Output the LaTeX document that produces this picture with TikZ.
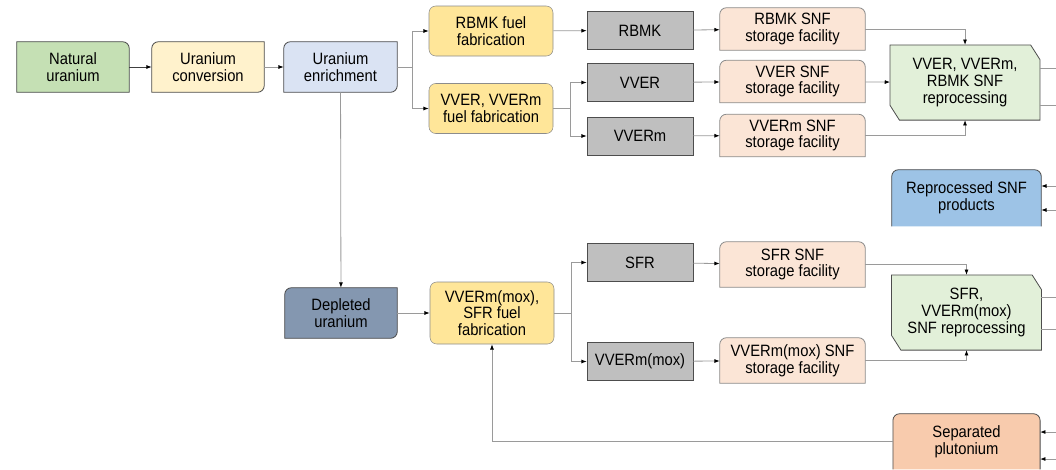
\documentclass[tikz,border=0pt]{standalone}
\usepackage{fontspec}
\setmainfont{Liberation Sans}[FakeStretch=0.9]
\usetikzlibrary{
  arrows.meta,
  positioning,
  backgrounds
}
\definecolor{natgreen}{HTML}{C5E0B4}
\definecolor{convyellow}{HTML}{FFF2CC}
\definecolor{enrblue}{HTML}{DAE3F3}
\definecolor{fabyellow}{HTML}{FFE699}
\definecolor{reactorgray}{HTML}{BFBFBF}
\definecolor{storagepink}{HTML}{FBE5D6}
\definecolor{reprocgreen}{HTML}{E2F0D9}
\definecolor{prodblue}{HTML}{9DC3E6}
\definecolor{deplblue}{HTML}{8497B0}
\definecolor{plutorange}{HTML}{F8CBAD}
\definecolor{boxborder}{HTML}{4D4D4D}
\definecolor{fabborder}{HTML}{8C8C8C}
\definecolor{storageborder}{HTML}{8C8C8C}
\definecolor{linkgray}{HTML}{9A9A9A}
\definecolor{darkline}{HTML}{404040}

\begin{document}
\begin{tikzpicture}[
    x=0.75pt, y=-0.75pt,
    every node/.style={font=\fontsize{12.3}{12.5}\selectfont, align=center, inner sep=1pt},
    plainbox/.style={rectangle, minimum width=84pt, minimum height=37.5pt},
    fab/.style={
      rectangle, draw=fabborder, fill=fabyellow, rounded corners=5pt,
      minimum width=93pt, minimum height=37.5pt
    },
    reactor/.style={
      rectangle, draw=boxborder, fill=reactorgray,
      minimum width=79.5pt, minimum height=28.5pt
    },
    storage/.style={rectangle, minimum width=108.75pt, minimum height=31.5pt},
    reproc/.style={rectangle, minimum width=112pt, minimum height=56pt},
    boxline/.style={draw=boxborder, line width=0.6pt},
    link/.style={draw=linkgray, line width=0.6pt},
    arrow/.style={link, -{Latex[length=4pt, width=3pt, color=black]}},
  ]

  \useasboundingbox (0,0) rectangle (1056,469);

  % --- Front end ---
  \node[plainbox] (nat) at (73,67) {Natural\\uranium};
  \node[plainbox] (conv) at (208,67) {Uranium\\conversion};
  \node[plainbox, minimum width=84.75pt] (enr) at (340.5,67) {Uranium\\enrichment};
  \node[plainbox] (depl) at (341,313) {Depleted\\uranium};

  % --- Fuel fabrication ---
  \node[fab] (rbmkfab) at (491,31) {RBMK fuel\\fabrication};
  \node[fab] (vverfab) at (491,108.5) {VVER, VVERm\\fuel fabrication};
  \node[fab, minimum height=46.5pt] (moxfab) at (492,313)
    {VVERm(mox),\\SFR fuel\\fabrication};

  % --- Reactors ---
  \node[reactor] (rbmk) at (640,30.5) {RBMK};
  \node[reactor] (vver) at (640,82.5) {VVER};
  \node[reactor] (vverm) at (640,136) {VVERm};
  \node[reactor] (sfr) at (640,262.5) {SFR};
  \node[reactor] (vvermmox) at (640,361.5) {VVERm(mox)};

  % --- SNF storage ---
  \node[storage] (rbmksnf) at (792.5,29) {RBMK SNF\\storage facility};
  \node[storage] (vversnf) at (792.5,81.5) {VVER SNF\\storage facility};
  \node[storage] (vvermsnf) at (792.5,135.5) {VVERm SNF\\storage facility};
  \node[storage, minimum height=33.75pt] (sfrsnf) at (792.5,264.5)
    {SFR SNF\\storage facility};
  \node[storage, minimum height=33.75pt] (moxsnf) at (792.5,360.5)
    {VVERm(mox) SNF\\storage facility};

  % --- Reprocessing and products ---
  \node[reproc] (reproc1) at (965,82.5) {VVER, VVERm,\\RBMK SNF\\reprocessing};
  \node[reproc] (reproc2) at (966.5,312.5) {SFR,\\VVERm(mox)\\SNF reprocessing};
  \node[rectangle, minimum width=111.75pt, minimum height=42pt] (products)
    at (966.5,198) {Reprocessed SNF\\products};
  \node[rectangle, minimum width=110pt, minimum height=41.25pt] (plut)
    at (966.5,441.5) {Separated\\plutonium};

  % --- Box outlines ---
  \begin{scope}[on background layer]
    \draw[boxline, fill=natgreen] (nat.south west) -- (nat.north west)
      -- ([xshift=-5pt]nat.north east) arc[start angle=90, end angle=0, radius=5pt]
      -- (nat.south east) -- cycle;
    \foreach \n/\c in {conv/convyellow, enr/enrblue, depl/deplblue}
      \draw[boxline, fill=\c] (\n.south west)
        -- ([yshift=-5pt]\n.north west) arc[start angle=180, end angle=90, radius=5pt]
        -- (\n.north east)
        -- ([yshift=5pt]\n.south east) arc[start angle=0, end angle=-90, radius=5pt]
        -- cycle;
    \foreach \n in {rbmksnf, vversnf, vvermsnf, sfrsnf, moxsnf}
      \draw[boxline, draw=storageborder, fill=storagepink] (\n.south west)
        -- ([yshift=-5pt]\n.north west) arc[start angle=180, end angle=90, radius=5pt]
        -- ([xshift=-5pt]\n.north east) arc[start angle=90, end angle=0, radius=5pt]
        -- (\n.south east) -- cycle;
    \foreach \n in {reproc1, reproc2}
      \draw[boxline, fill=reprocgreen] (\n.north west)
        -- ([xshift=-7pt]\n.north east) -- ([yshift=-11pt]\n.north east)
        -- (\n.south east) -- ([xshift=7pt]\n.south west)
        -- ([yshift=11pt]\n.south west) -- cycle;
    \foreach \n/\c in {products/prodblue, plut/plutorange} {
      \fill[\c] (\n.south west)
        -- ([yshift=-5pt]\n.north west) arc[start angle=180, end angle=90, radius=5pt]
        -- ([xshift=-5pt]\n.north east) arc[start angle=90, end angle=0, radius=5pt]
        -- (\n.south east) -- cycle;
      \draw[boxline] (\n.south west)
        -- ([yshift=-5pt]\n.north west) arc[start angle=180, end angle=90, radius=5pt]
        -- ([xshift=-5pt]\n.north east) arc[start angle=90, end angle=0, radius=5pt]
        -- (\n.south east);
    }
  \end{scope}

  % --- Arrows ---
  \draw[arrow, draw=darkline] (nat) -- (conv);
  \draw[arrow] (conv) -- (enr);
  \draw[arrow] (enr.east) -- ++(15,0) |- (rbmkfab.west);
  \draw[arrow] (enr.east) -- ++(15,0) |- (vverfab.west);
  \draw[arrow] (enr) -- (depl);
  \draw[arrow] (depl) -- (moxfab);

  \draw[arrow] (rbmkfab) -- (rbmk);
  \draw[arrow] (vverfab.east) -- ++(17,0) |- (vver.west);
  \draw[arrow] (vverfab.east) -- ++(17,0) |- (vverm.west);
  \draw[arrow] (moxfab.east) -- ++(17,0) |- (sfr.west);
  \draw[arrow] (moxfab.east) -- ++(17,0) |- (vvermmox.west);

  \draw[arrow] (rbmk) -- (rbmksnf);
  \draw[arrow] (vver) -- (vversnf);
  \draw[arrow] (vverm) -- (vvermsnf);
  \draw[arrow] (sfr) -- (sfrsnf);
  \draw[arrow] (vvermmox) -- (moxsnf);

  \draw[arrow] (rbmksnf.east) -| (reproc1.north);
  \draw[arrow] (vversnf) -- (reproc1);
  \draw[arrow] (vvermsnf.east) -| (reproc1.south);
  \draw[arrow] (sfrsnf.east) -| (reproc2.north);
  \draw[arrow] (moxsnf.east) -| (reproc2.south);

  \draw[arrow] (plut.west) -| (moxfab.south);

  % --- Links leaving the right edge ---
  \coordinate (out1a) at (1056,68);
  \coordinate (out1b) at (1056,105);
  \coordinate (out2a) at (1056,297);
  \coordinate (out2b) at (1056,329);
  \coordinate (in1a) at (1056,186);
  \coordinate (in1b) at (1056,210);
  \coordinate (in2a) at (1056,432);
  \coordinate (in2b) at (1056,459);

  \draw[link] (reproc1.east |- out1a) -- (out1a);
  \draw[link] (reproc1.east |- out1b) -- (out1b);
  \draw[link] (reproc2.east |- out2a) -- (out2a);
  \draw[link] (reproc2.east |- out2b) -- (out2b);
  \draw[arrow] (in1a) -- (products.east |- in1a);
  \draw[arrow] (in1b) -- (products.east |- in1b);
  \draw[arrow] (in2a) -- (plut.east |- in2a);
  \draw[arrow] (in2b) -- (plut.east |- in2b);

\end{tikzpicture}
\end{document}
